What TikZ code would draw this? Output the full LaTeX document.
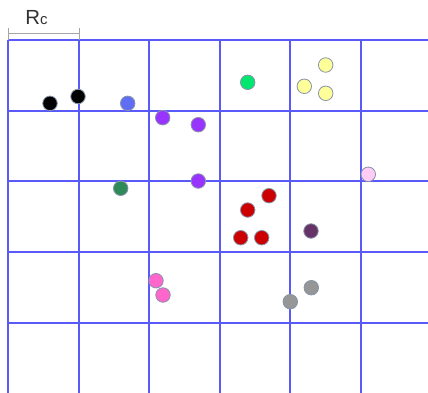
\documentclass[tikz,border=0pt]{standalone}
\usepackage{fontspec}
\setmainfont{Liberation Sans}
\definecolor{gridblue}{RGB}{90,90,250}
\definecolor{dotedge}{RGB}{135,148,170}
\definecolor{cblack}{RGB}{0,0,0}
\definecolor{cblue}{RGB}{95,110,245}
\definecolor{cpurple}{RGB}{153,51,255}
\definecolor{cgreen}{RGB}{0,230,110}
\definecolor{cyellow}{RGB}{255,255,153}
\definecolor{cpinkl}{RGB}{255,204,245}
\definecolor{cteal}{RGB}{46,139,87}
\definecolor{cred}{RGB}{204,0,0}
\definecolor{cdpurple}{RGB}{102,51,102}
\definecolor{cpink}{RGB}{255,102,204}
\definecolor{cgray}{RGB}{150,150,150}
\definecolor{scalegray}{RGB}{165,165,165}
\tikzset{
  gridline/.style={draw=gridblue, line width=2bp},
  dot/.style={circle, draw=dotedge, line width=0.8bp, minimum size=14.5bp, inner sep=0pt, fill=#1},
  scalebar/.style={draw=scalegray, line width=1bp},
  lbl/.style={text=black!80, inner sep=0pt, font=\fontsize{20.5}{20.5}\selectfont}
}
\begin{document}
\begin{tikzpicture}[x=1bp, y=-1bp]
\useasboundingbox (0,0) rectangle (428,393);
\fill[white] (0,0) rectangle (428,393);
% grid
\foreach \gx in {8,79,149,220,290,361} {
  \draw[gridline] (\gx,40) -- (\gx,393);
}
\foreach \gy in {40,111,181,252,323} {
  \draw[gridline] (8,\gy) -- (428,\gy);
}
% scale bar
\coordinate (sl) at (8,33.5);
\coordinate (sr) at (79,33.5);
\draw[scalebar] (sl) -- (sr);
\draw[scalebar] (8,28) -- (8,40);
\draw[scalebar] (79,28) -- (79,40);
\node[lbl, anchor=base] (rc) at (36.5,24) {R{\fontsize{15}{15}\selectfont c}};
% dots
\node[dot=cblack] (k1) at (50,103.3) {};
\node[dot=cblack] (k2) at (78,96.5) {};
\node[dot=cblue] (b1) at (127.7,103.3) {};
\node[dot=cpurple] (p1) at (162.7,117.7) {};
\node[dot=cpurple] (p2) at (198.3,124.7) {};
\node[dot=cpurple] (p3) at (198.3,181) {};
\node[dot=cgreen] (g1) at (247.7,82.3) {};
\node[dot=cyellow] (y1) at (325.7,65) {};
\node[dot=cyellow] (y2) at (304.3,86.3) {};
\node[dot=cyellow] (y3) at (325.7,93.3) {};
\node[dot=cpinkl] (l1) at (368.3,174.3) {};
\node[dot=cteal] (t1) at (120.7,188.3) {};
\node[dot=cred] (r1) at (269,195.7) {};
\node[dot=cred] (r2) at (247.7,210) {};
\node[dot=cred] (r3) at (240.7,237.7) {};
\node[dot=cred] (r4) at (261.7,237.7) {};
\node[dot=cdpurple] (d1) at (311,231) {};
\node[dot=cpink] (m1) at (156,280.7) {};
\node[dot=cpink] (m2) at (163,295) {};
\node[dot=cgray] (e1) at (311.3,287.7) {};
\node[dot=cgray] (e2) at (290.3,301.7) {};
\end{tikzpicture}
\end{document}
